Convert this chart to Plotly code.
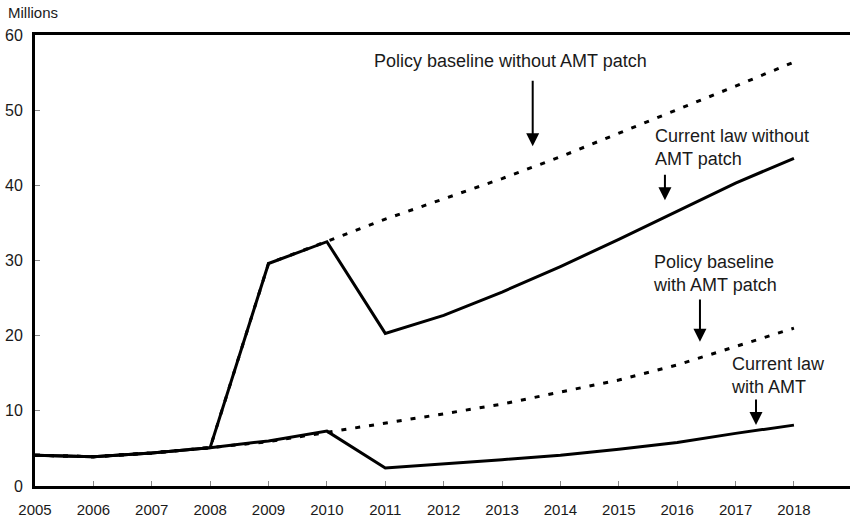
import plotly.graph_objects as go

years = list(range(2005, 2019))
current_law_with_amt = [4.1, 3.9, 4.4, 5.1, 6.0, 7.3, 2.4, 2.9, 3.5, 4.1, 4.9, 5.8, 7.0, 8.1]
policy_with_patch = [4.1, 3.9, 4.4, 5.1, 5.9, 7.1, 8.4, 9.6, 10.9, 12.5, 14.1, 16.1, 18.5, 21.0]
current_law_without_patch = [4.1, 3.9, 4.4, 5.1, 29.6, 32.5, 20.3, 22.7, 25.8, 29.2, 32.8, 36.5, 40.3, 43.6]
policy_without_patch = [4.1, 3.9, 4.4, 5.1, 29.6, 32.5, 35.5, 38.2, 40.9, 43.8, 46.9, 50.0, 53.2, 56.4]

y_ticks = [0, 10, 20, 30, 40, 50, 60]

FONT = "Liberation Sans, Arial, sans-serif"
DOT = "5px,9px"

fig = go.Figure()
fig.add_trace(go.Scatter(x=years, y=policy_without_patch, mode="lines",
                         line=dict(color="black", width=3, dash=DOT)))
fig.add_trace(go.Scatter(x=years, y=policy_with_patch, mode="lines",
                         line=dict(color="black", width=3, dash=DOT)))
fig.add_trace(go.Scatter(x=years, y=current_law_without_patch, mode="lines",
                         line=dict(color="black", width=3)))
fig.add_trace(go.Scatter(x=years, y=current_law_with_amt, mode="lines",
                         line=dict(color="black", width=3)))

labels = [
    ("Policy baseline without AMT patch", 2013.14, 56.6, "center"),
    ("Current law without<br>AMT patch", 2015.59, 45.0, "left"),
    ("Policy baseline<br>with AMT patch", 2015.55, 28.3, "left"),
    ("Current law<br>with AMT", 2016.89, 14.7, "left"),
]
for text, x, y, anchor in labels:
    fig.add_annotation(x=x, y=y, xref="x", yref="y", text=text, showarrow=False,
                       xanchor=anchor, yanchor="middle", align="left",
                       font=dict(family=FONT, size=18, color="#1a1a1a"))

arrows = [
    (2013.525, 54.1, 45.2),
    (2015.79, 41.6, 38.0),
    (2016.39, 25.0, 19.2),
    (2017.35, 11.7, 8.1),
]
for x, y0, y1 in arrows:
    fig.add_annotation(x=x, y=y1, ax=x, ay=y0, xref="x", yref="y", axref="x", ayref="y",
                       text="", showarrow=True, arrowhead=2, arrowsize=1.3,
                       arrowwidth=2, arrowcolor="black")

fig.add_annotation(x=-0.036, y=1.049, xref="paper", yref="paper", text="Millions",
                   showarrow=False, xanchor="left", yanchor="middle",
                   font=dict(family=FONT, size=15, color="#1a1a1a"))

fig.update_layout(
    width=850, height=518,
    margin=dict(l=35, r=0, t=35, b=32, autoexpand=False),
    paper_bgcolor="white", plot_bgcolor="white",
    showlegend=False,
    font=dict(family=FONT, color="#1a1a1a"),
    xaxis=dict(range=[2005, 2018.96], tickvals=years, ticktext=[str(y) for y in years],
               showgrid=False, zeroline=False, showline=True, linecolor="black",
               linewidth=3, mirror=True, ticks="inside", ticklen=5, tickcolor="#888",
               tickwidth=1, tickfont=dict(size=15, family=FONT, color="#1a1a1a"),
               ticklabelstandoff=8, automargin=False),
    yaxis=dict(range=[0, 60], tickvals=y_ticks, showgrid=False, zeroline=False,
               showline=True, linecolor="black", linewidth=3, ticks="inside",
               ticklen=5, tickcolor="#888", tickwidth=1,
               tickfont=dict(size=16, family=FONT, color="#1a1a1a"),
               ticklabelstandoff=6, automargin=False),
)

fig.write_html(
    "out.html",
    config={"displayModeBar": False, "staticPlot": True},
    post_script="document.body.style.margin='0';document.body.style.overflow='hidden';",
)
